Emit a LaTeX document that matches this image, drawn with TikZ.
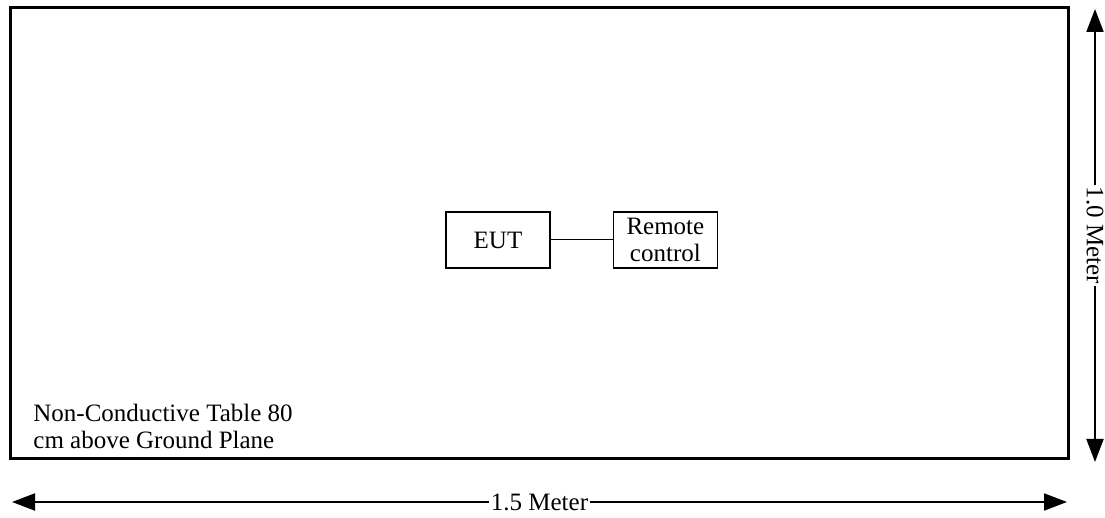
\documentclass[tikz,border=0pt]{standalone}
\usepackage{fontspec}
\setmainfont{Liberation Serif}
\usetikzlibrary{positioning,arrows.meta}

\begin{document}
\begin{tikzpicture}[x=0.5pt,y=-0.5pt,
    unit/.style={draw,line width=0.7pt,minimum width=52pt,minimum height=28pt,inner sep=1pt,align=center},
    dim/.style={line width=1pt,{Triangle[length=11.5pt,width=8.5pt]}-{Triangle[length=11.5pt,width=8.5pt]}},
    font=\fontsize{12.5}{13.2}\selectfont
    ]

    \useasboundingbox (0,0) rectangle (1105,518);
    \draw[line width=1.5pt] (10,8) rectangle (1068,459);

    \node (eut) [unit] at (498,240) {EUT};
    \node (remote) [unit,right=31pt of eut] {Remote\\control};
    \node (table) [anchor=north west,align=left,inner sep=0pt] at (33,404) {Non-Conductive Table 80\\cm above Ground Plane};

    \coordinate (w) at (12,502);
    \coordinate (e) at (1067,502);
    \coordinate (n) at (1095,9);
    \coordinate (s) at (1095,462);

    \draw[line width=0.5pt] (eut) -- (remote);
    \draw[dim] (w) -- node [fill=white,inner sep=1pt] {1.5 Meter} (e);
    \draw[dim] (n) -- node [fill=white,inner sep=1pt,rotate=-90] {1.0 Meter} (s);

  \end{tikzpicture}
\end{document}
